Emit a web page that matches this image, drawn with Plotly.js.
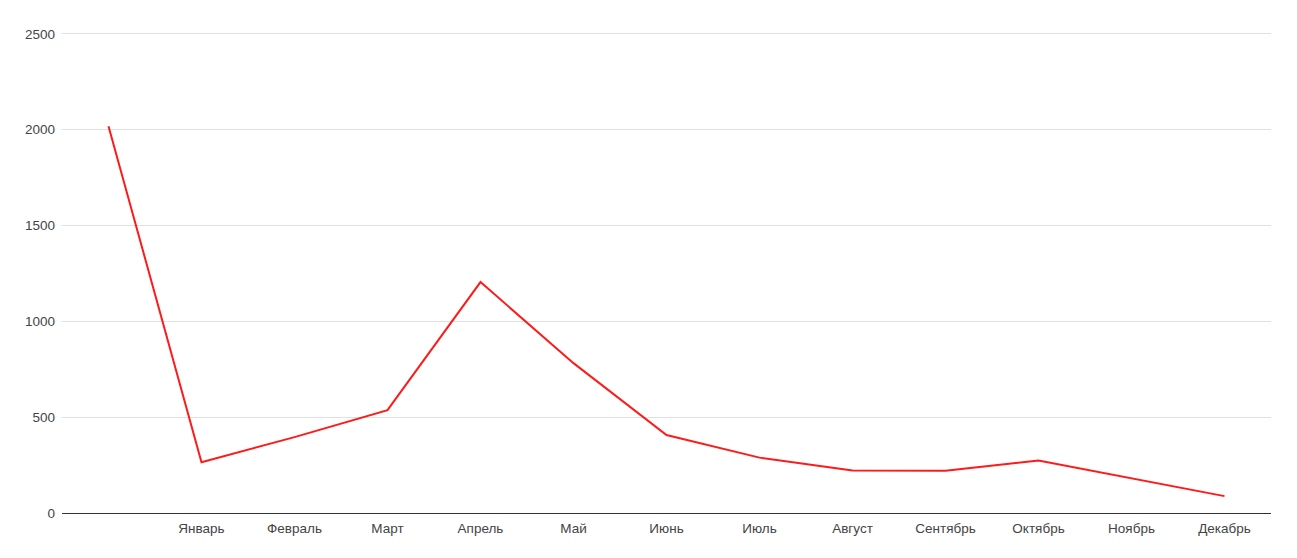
<!DOCTYPE html>
<html>
<head>
<meta charset="utf-8">
<script src="https://cdn.plot.ly/plotly-3.0.1.min.js"></script>
<style>html,body{margin:0;padding:0;background:#fff;}#chart{width:1297px;height:558px;}</style>
</head>
<body>
<div id="chart"></div>
<script>
const months = [" ", "Январь", "Февраль", "Март", "Апрель", "Май", "Июнь", "Июль", "Август", "Сентябрь", "Октябрь", "Ноябрь", "Декабрь"];
const values = [2018, 265, 396, 537, 1205, 782, 407, 289, 222, 220, 274, 180, 88];
const yTicks = [0, 500, 1000, 1500, 2000, 2500];

Plotly.newPlot('chart', [{
  x: months,
  y: values,
  type: 'scatter',
  mode: 'lines',
  line: {color: '#ff1a1a', width: 2},
  hoverinfo: 'x+y'
}], {
  width: 1297,
  height: 558,
  margin: {l: 62, r: 26, t: 32, b: 45},
  paper_bgcolor: '#ffffff',
  plot_bgcolor: '#ffffff',
  showlegend: false,
  font: {family: 'Arial, "Liberation Sans", sans-serif', size: 13.5, color: '#444'},
  xaxis: {
    type: 'category',
    range: [-0.5, 12.5],
    showgrid: false,
    zeroline: false,
    showline: true,
    linecolor: '#333',
    linewidth: 1,
    ticks: '',
    ticklabelstandoff: 3,
    tickfont: {size: 13.5, color: '#444'},
    fixedrange: true
  },
  yaxis: {
    range: [0, 2510],
    tickvals: yTicks,
    ticktext: yTicks.map(String),
    showgrid: true,
    gridcolor: '#e0e0e0',
    gridwidth: 1,
    zeroline: false,
    showline: false,
    ticks: '',
    ticklabelstandoff: 6,
    tickfont: {size: 13.5, color: '#444'},
    fixedrange: true
  }
}, {displayModeBar: false, staticPlot: true});
</script>
</body>
</html>
